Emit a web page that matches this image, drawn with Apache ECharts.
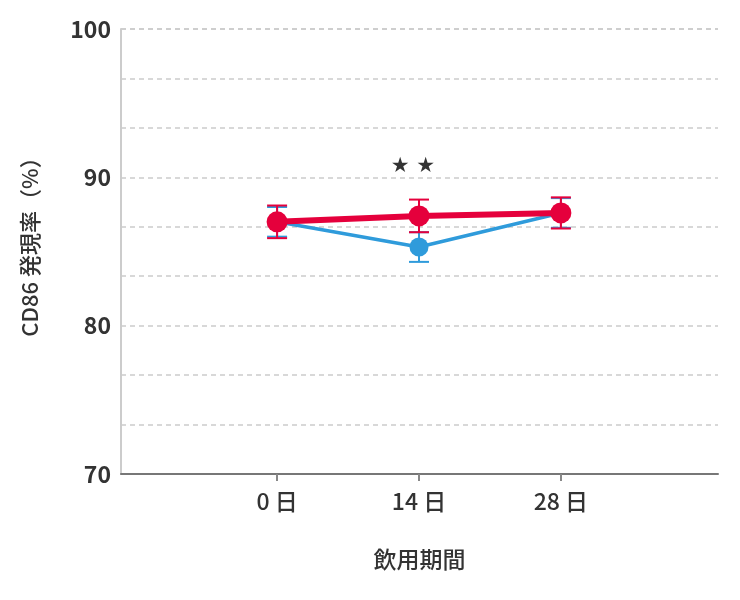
<!DOCTYPE html>
<html>
<head>
<meta charset="utf-8">
<script src="https://cdn.jsdelivr.net/npm/echarts@6/dist/echarts.min.js"></script>
<style>
  html, body { margin: 0; padding: 0; background: #fff; }
  #root { width: 740px; height: 600px; }
</style>
</head>
<body>
<div id="root"></div>
<script>
var days = [0, 14, 28];
var dayLabels = ['0 日', '14 日', '28 日'];
var redMean = [87.0, 87.4, 87.6];
var redErr = [1.1, 1.1, 1.05];
var blueMean = [87.0, 85.3, 87.6];
var blueErr = [1.0, 1.0, 1.0];
var yTicks = [70, 80, 90, 100];

var RED = '#e5003c';
var BLUE = '#2f9bdb';
var FONT = '"Noto Sans CJK JP", "Noto Sans", sans-serif';

function pairs( means )
{
	return days.map( function( d, i ){ return [ d, means[i] ]; } );
}

function bars( means, errs )
{
	return days.map( function( d, i ){ return [ d, means[i] - errs[i], means[i] + errs[i] ]; } );
}

function errRender( color )
{
	return function( params, api ){
		var lo = api.coord( [ api.value(0), api.value(1) ] );
		var hi = api.coord( [ api.value(0), api.value(2) ] );
		var half = 10;
		var st = { stroke: color, lineWidth: 2 };
		return {
			type: 'group',
			children: [
				{ type: 'line', shape: { x1: lo[0], y1: lo[1], x2: hi[0], y2: hi[1] }, style: st },
				{ type: 'line', shape: { x1: lo[0] - half, y1: lo[1], x2: lo[0] + half, y2: lo[1] }, style: st },
				{ type: 'line', shape: { x1: hi[0] - half, y1: hi[1], x2: hi[0] + half, y2: hi[1] }, style: st }
			]
		};
	};
}

var chart = echarts.init( document.getElementById('root') );

var option = {
	animation: false,
	textStyle: { fontFamily: FONT },
	grid: { left: 121, right: 22, top: 29, bottom: 126 },
	xAxis: {
		type: 'value',
		min: -15.4,
		max: 43.5,
		name: '飲用期間',
		nameLocation: 'middle',
		nameGap: 74,
		nameTextStyle: { fontSize: 23, fontWeight: 500, color: '#333', fontFamily: FONT },
		axisLine: { onZero: false, lineStyle: { color: '#777', width: 2 } },
		axisTick: { show: true, customValues: days, length: 7, lineStyle: { color: '#888', width: 2 } },
		axisLabel: {
			customValues: days,
			margin: 16,
			fontSize: 23,
			fontWeight: 500,
			color: '#333',
			fontFamily: FONT,
			formatter: function( v ){ return dayLabels[ days.indexOf( v ) ]; }
		},
		splitLine: { show: false }
	},
	yAxis: {
		type: 'value',
		min: 70,
		max: 100,
		interval: 10 / 3,
		name: 'CD86 発現率（%）',
		nameLocation: 'middle',
		nameGap: 80,
		nameRotate: 90,
		nameTextStyle: { fontSize: 22, fontWeight: 500, color: '#333', fontFamily: FONT, padding: [0, 0, 0, 20] },
		axisLine: { show: true, onZero: false, lineStyle: { color: '#ccc', width: 2 } },
		axisTick: { show: false },
		axisLabel: {
			fontSize: 23,
			fontWeight: 'bold',
			color: '#333',
			margin: 10,
			fontFamily: FONT,
			formatter: function( v ){
				var r = Math.round( v );
				return yTicks.indexOf( r ) >= 0 && Math.abs( v - r ) < 0.01 ? String( r ) : '';
			}
		},
		splitLine: { show: true, lineStyle: { color: '#ccc', type: [5, 4], width: 1.5 } }
	},
	series: [
		{
			type: 'custom',
			renderItem: errRender( BLUE ),
			data: bars( blueMean, blueErr ),
			encode: { x: 0, y: [1, 2] },
			z: 2
		},
		{
			type: 'line',
			data: pairs( blueMean ),
			symbol: 'circle',
			symbolSize: 19,
			itemStyle: { color: BLUE },
			lineStyle: { color: BLUE, width: 3.5 },
			z: 3
		},
		{
			type: 'custom',
			renderItem: errRender( RED ),
			data: bars( redMean, redErr ),
			encode: { x: 0, y: [1, 2] },
			z: 4
		},
		{
			type: 'line',
			data: pairs( redMean ),
			symbol: 'circle',
			symbolSize: 21,
			itemStyle: { color: RED },
			lineStyle: { color: RED, width: 6 },
			z: 5,
			markPoint: {
				symbol: 'circle',
				symbolSize: 0,
				data: [ { coord: [13.4, 90.7], value: '★★' } ],
				label: {
					show: true,
					position: 'inside',
					formatter: '★ ★',
					color: '#333',
					fontSize: 21,
					fontFamily: 'DejaVu Sans'
				}
			}
		}
	]
};

chart.setOption( option );
</script>
</body>
</html>
